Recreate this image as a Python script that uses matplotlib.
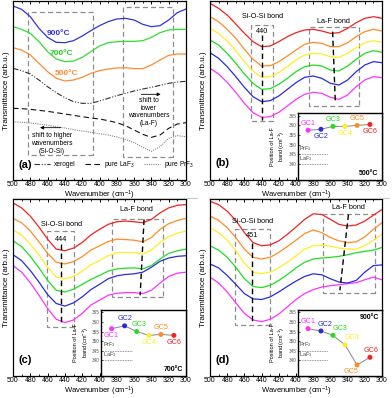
import matplotlib
matplotlib.use("Agg")
import matplotlib.pyplot as plt
from matplotlib.patches import Rectangle
from matplotlib.lines import Line2D

plt.rcParams['font.family'] = ['Liberation Sans', 'DejaVu Sans']
plt.rcParams['mathtext.default'] = 'regular'

# wavenumber grid (cm-1), read every 10 cm-1
wn = [500, 490, 480, 470, 460, 450, 440, 430, 420, 410, 400,
      390, 380, 370, 360, 350, 340, 330, 320, 310, 300]

# panel (a): heat-treated glasses and references (arb. units)
a_900 = [522, 512, 490, 455, 428, 413, 412, 418, 432, 448, 463,
         475, 483, 485, 480, 467, 460, 463, 480, 502, 513]
a_700 = [460, 452, 440, 415, 385, 363, 355, 357, 368, 385, 402,
         412, 415, 416, 416, 418, 428, 442, 450, 452, 452]
a_500 = [397, 390, 375, 350, 325, 305, 297, 300, 308, 320, 328,
         333, 336, 337, 334, 334, 345, 360, 374, 378, 378]
a_xerogel = [335, 328, 318, 300, 280, 262, 247, 235, 230, 230, 237,
             245, 253, 260, 267, 273, 278, 284, 290, 294, 296]
a_laf3 = [215, 214, 212, 209, 206, 202, 198, 194, 190, 186, 183,
          178, 172, 163, 150, 137, 128, 135, 155, 168, 172]
a_prf3 = [175, 173, 171, 168, 164, 160, 156, 151, 147, 143, 139,
          135, 129, 122, 112, 98, 86, 100, 125, 133, 130]

# panels (b)-(d): GC1..GC6 spectra (arb. units)
b_spectra = [
    [335, 318, 293, 263, 230, 202, 188, 190, 203, 222, 242, 257, 263, 260, 248, 242, 255, 280, 300, 310, 307],
    [382, 365, 340, 310, 278, 250, 235, 238, 252, 272, 292, 308, 312, 305, 290, 285, 300, 325, 345, 355, 352],
    [420, 405, 380, 350, 318, 290, 272, 274, 287, 305, 325, 340, 345, 342, 330, 327, 342, 362, 380, 388, 383],
    [455, 440, 417, 388, 355, 327, 308, 310, 322, 340, 360, 375, 380, 378, 370, 368, 380, 397, 412, 418, 413],
    [490, 475, 452, 425, 392, 362, 342, 343, 355, 372, 390, 407, 413, 410, 400, 400, 412, 430, 445, 452, 447],
    [530, 515, 495, 468, 440, 415, 400, 402, 415, 430, 442, 450, 452, 447, 440, 442, 455, 472, 485, 490, 485],
]
c_spectra = [
    [335, 315, 283, 245, 205, 172, 162, 170, 190, 215, 230, 245, 251, 253, 253, 250, 260, 282, 302, 312, 315],
    [368, 350, 320, 285, 247, 220, 212, 222, 240, 262, 278, 295, 304, 308, 310, 315, 330, 348, 358, 363, 365],
    [410, 393, 363, 328, 290, 260, 255, 263, 278, 293, 305, 318, 325, 327, 328, 325, 335, 355, 372, 380, 385],
    [443, 428, 400, 367, 330, 300, 295, 302, 318, 337, 350, 365, 374, 375, 374, 370, 382, 405, 423, 433, 440],
    [478, 465, 440, 407, 372, 345, 340, 347, 362, 382, 395, 408, 415, 414, 412, 407, 420, 445, 462, 472, 478],
    [525, 510, 485, 452, 415, 385, 380, 388, 405, 428, 445, 460, 468, 470, 468, 465, 475, 495, 510, 518, 520],
]
d_spectra = [
    [300, 282, 255, 222, 190, 170, 165, 172, 188, 210, 232, 250, 262, 270, 274, 277, 280, 283, 292, 300, 292],
    [340, 328, 305, 278, 250, 234, 232, 240, 255, 272, 288, 302, 310, 307, 295, 285, 282, 290, 315, 335, 337],
    [395, 382, 360, 330, 295, 272, 268, 275, 290, 308, 328, 345, 355, 358, 360, 363, 368, 374, 378, 382, 390],
    [450, 435, 412, 380, 342, 315, 310, 315, 328, 345, 365, 385, 395, 397, 394, 388, 385, 385, 395, 412, 430],
    [485, 472, 450, 420, 385, 360, 355, 360, 375, 393, 412, 432, 443, 435, 420, 410, 405, 407, 422, 445, 465],
    [530, 520, 500, 472, 435, 405, 395, 398, 410, 430, 452, 475, 492, 490, 475, 460, 455, 458, 470, 488, 505],
]

# insets: La-F band position of GC1..GC6
gc_names = ['GC1', 'GC2', 'GC3', 'GC4', 'GC5', 'GC6']
gc_x = [386, 371, 357, 343, 329, 314]
b_band = [357.5, 358.0, 359.5, 359.5, 360.0, 360.5]
c_band = [356.5, 358.0, 355.0, 353.0, 353.5, 353.0]
d_band = [356.5, 355.3, 353.0, 348.0, 337.5, 341.5]
prf3_pos = 345
laf3_pos = 340

gc_colors = ['#FF33FF', '#2B2BDD', '#22DD22', '#FFEE22', '#FF8C26', '#F22222']

fig = plt.figure(figsize=(3.92, 3.98), dpi=100)
W, H = 392.0, 398.0


def make_axes(l, t, r, b):
    return fig.add_axes([l / W, 1 - b / H, (r - l) / W, (b - t) / H])


def style_main(ax):
    ax.set_xlim(500, 300)
    ax.set_ylim(0, 537)
    ax.set_yticks([])
    ax.set_xticks(range(500, 299, -20))
    ax.set_xticks(range(490, 300, -20), minor=True)
    ax.tick_params(axis='x', which='major', direction='in', length=2.5, width=0.7,
                   labelsize=5, pad=1.0, top=True)
    ax.tick_params(axis='x', which='minor', direction='in', length=1.3, width=0.6, top=True)
    ax.set_xlabel('Wavenumber (cm$^{-1}$)', fontsize=5.5, labelpad=0)
    ax.set_ylabel('Transmittance (arb.u.)', fontsize=5.8, labelpad=2)
    for s in ax.spines.values():
        s.set_linewidth(0.9)


def box(ax, x0, x1, y0, y1):
    ax.add_patch(Rectangle((x1, y1), x0 - x1, y0 - y1, fill=False, ls=(0, (4, 2.5)),
                           ec='#8c8c8c', lw=0.9, zorder=1))


ax_a = make_axes(13, 1, 186, 180)
ax_b = make_axes(210, 1, 382, 180)
ax_c = make_axes(13, 199, 186, 376)
ax_d = make_axes(210, 199, 382, 376)

# ---------- panel (a)
style_main(ax_a)
ax_a.plot(wn, a_900, color='#3333DD', lw=0.9)
ax_a.plot(wn, a_700, color='#33DD33', lw=0.9)
ax_a.plot(wn, a_500, color='#FF8C33', lw=0.9)
ax_a.plot(wn, a_xerogel, color='#333333', lw=0.8, ls=(0, (5, 1.5, 1, 1.5, 1, 1.5)), label='xerogel')
ax_a.plot(wn, a_laf3, color='#111111', lw=0.8, ls=(0, (5, 3)), label='pure LaF$_3$')
ax_a.plot(wn, a_prf3, color='#888888', lw=0.8, ls=(0, (1, 1)), label='pure PrF$_3$')
box(ax_a, 483, 407.7, 503, 75)
box(ax_a, 373, 314.6, 518, 70)
ax_a.text(447, 440, '900°C', color='#3333DD', fontsize=6, fontweight='bold', ha='center', va='center')
ax_a.text(443.5, 380, '700°C', color='#22CC22', fontsize=6, fontweight='bold', ha='center', va='center')
ax_a.text(437.7, 320, '500°C', color='#FF8C33', fontsize=6, fontweight='bold', ha='center', va='center')
ax_a.text(343, 204, 'shift to\nlower\nwavenumbers\n(La-F)', fontsize=4.8, ha='center', va='center',
          linespacing=1.15)
ax_a.annotate('', xy=(326, 257), xytext=(355, 257),
              arrowprops=dict(arrowstyle='-|>', lw=0.6, color='black', mutation_scale=5))
ax_a.text(455, 110, 'shift to higher\nwavenumbers\n(Si-O-Si)', fontsize=4.8, ha='center', va='center',
          linespacing=1.15)
ax_a.annotate('', xy=(472, 157), xytext=(441.5, 157),
              arrowprops=dict(arrowstyle='-|>', lw=0.6, color='black', mutation_scale=5))
ax_a.text(494, 45, '(a)', fontsize=8, fontweight='bold', ha='left', va='center')
ax_a.legend(loc='center', bbox_to_anchor=(0.585, 0.084), ncol=3, frameon=False, fontsize=4.8,
            handlelength=2.4, handletextpad=0.5, columnspacing=1.4, borderpad=0)


# ---------- panels (b)-(d)
def spectra_panel(ax, spectra, letter, si_box, si_line, si_text, la_box, la_line, la_text, si_val):
    style_main(ax)
    for ys, col in zip(spectra, gc_colors):
        ax.plot(wn, ys, color=col, lw=0.9, zorder=2)
    box(ax, *si_box)
    box(ax, *la_box)
    ax.plot(si_line[0], si_line[1], color='black', lw=1.0, ls=(0, (4, 2.5)), zorder=3)
    ax.plot(la_line[0], la_line[1], color='black', lw=1.0, ls=(0, (4, 2.5)), zorder=3)
    ax.text(si_text[0], si_text[1], 'Si-O-Si bond', fontsize=5.2, ha='center', va='center')
    ax.text(si_line[0][0], si_text[2], si_val, fontsize=5.2, ha='center', va='center')
    ax.text(la_text[0], la_text[1], 'La-F bond', fontsize=5.2, ha='center', va='center')
    ax.text(494, 50, letter, fontsize=8, fontweight='bold', ha='left', va='center')


def inset(ax, band, temp, label_offsets, temp_top):
    ins = ax.inset_axes([0.51, 0.0, 0.49, 0.374])
    ins.set_xlim(398, 300)
    ins.set_ylim(331.7, 366.4)
    ins.set_xticks([])
    ins.set_yticks([340, 345, 350, 355, 360, 365])
    ins.tick_params(axis='y', direction='in', length=1.5, width=0.5, labelsize=3.3,
                    labelcolor='#555555', pad=1)
    for s in ins.spines.values():
        s.set_linewidth(1.0)
    ins.set_ylabel('Position of La-F\nband (cm$^{-1}$)', fontsize=4, labelpad=1, linespacing=1.3)
    ins.plot([398, 363], [prf3_pos, prf3_pos], ls=(0, (1, 1)), color='#777777', lw=0.6)
    ins.plot([398, 363], [laf3_pos, laf3_pos], ls=(0, (1, 1)), color='#777777', lw=0.6)
    ins.text(396, prf3_pos + 0.6, 'PrF$_3$', fontsize=4, color='#444444', va='bottom')
    ins.text(396, laf3_pos + 0.6, 'LaF$_3$', fontsize=4, color='#444444', va='bottom')
    ins.plot(gc_x, band, color='#888888', lw=0.7, zorder=2)
    ins.scatter(gc_x, band, c=gc_colors, s=13, zorder=3, edgecolors='none')
    for xv, yv, name, col, (dx, dy) in zip(gc_x, band, gc_names, gc_colors, label_offsets):
        ins.annotate(name, (xv, yv), xytext=(dx, dy), textcoords='offset points',
                     ha='center', va='bottom' if dy > 0 else 'top', fontsize=5.2, color=col)
    if temp_top:
        ins.text(0.96, 0.88, temp, transform=ins.transAxes, fontsize=5, fontweight='bold',
                 ha='right', va='center')
    else:
        ins.text(0.96, 0.1, temp, transform=ins.transAxes, fontsize=5, fontweight='bold',
                 ha='right', va='center')


U, D = 2.5, -2.5
spectra_panel(ax_b, b_spectra, '(b)',
              (452.3, 427.1, 465, 178), ([440, 440], [435, 180]), (439, 490, 445),
              (384.5, 326.4, 460, 222), ([357.4, 354.3], [445, 235]), (357, 475), '440')
inset(ax_b, b_band, '500°C', [(0, U), (0, D), (0, U), (0, D), (0, U), (0, D)], False)

spectra_panel(ax_c, c_spectra, '(c)',
              (460.8, 429.2, 440, 148), ([444, 444], [400, 155]), (443.5, 460, 415),
              (385.8, 327, 475, 240), ([348.5, 353], [475, 245]), (357, 505), '444')
inset(ax_c, c_band, '700°C', [(0, D), (0, U), (2, U), (0, D), (0, U), (0, D)], False)

spectra_panel(ax_d, d_spectra, '(d)',
              (470.5, 430, 445, 155), ([451, 451], [405, 160]), (450.4, 468, 425),
              (368.2, 308.1, 490, 252), ([339, 349], [490, 260]), (339, 510), '451')
inset(ax_d, d_band, '900°C', [(0, U), (3, U), (5, U), (5, U), (-4, D), (1, U)], True)

# thin gray separators under the top row
fig.add_artist(Line2D([13 / W, 197 / W], [1 - 197.5 / H] * 2, color='#c8c8c8', lw=0.8))
fig.add_artist(Line2D([209 / W, 389 / W], [1 - 197.5 / H] * 2, color='#c8c8c8', lw=0.8))

fig.savefig('out.png', dpi=100)
